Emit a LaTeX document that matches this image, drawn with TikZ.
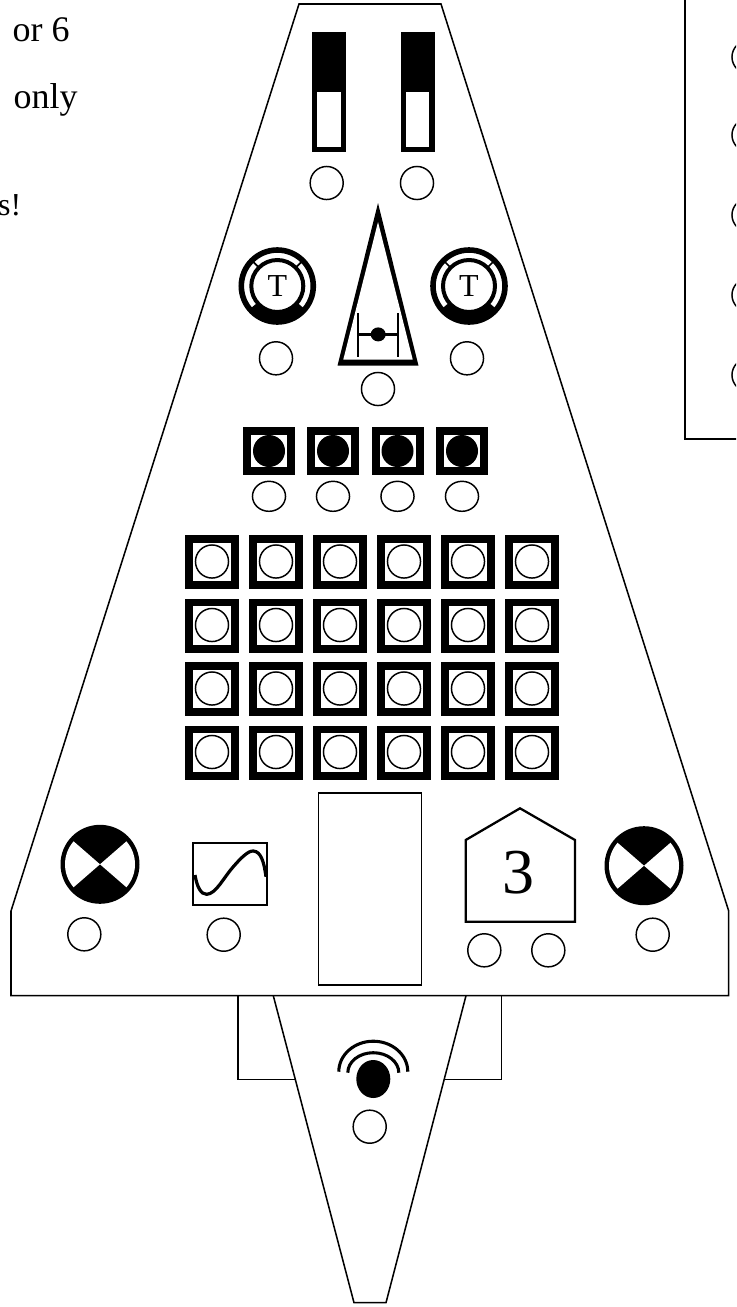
\documentclass[tikz,border=0pt]{standalone}
\usepackage{fontspec}
\setmainfont{Liberation Serif}
\usepackage{tikz}
\usetikzlibrary{positioning,calc,shapes.geometric}
\begin{document}
\begin{tikzpicture}[x=0.75pt, y=0.75pt,
  hole/.style={draw, circle, line width=1.1pt, minimum size=24.8pt, inner sep=0pt},
  flathole/.style={draw, ellipse, line width=1.1pt, minimum width=24.8pt, minimum height=22.5pt, inner sep=0pt},
  hull/.style={line width=1.15pt, line join=miter},
  frame/.style={line width=1.7pt},
  lab/.style={inner sep=0pt, font=\fontsize{27}{27}\selectfont}]
\useasboundingbox (0,0) rectangle (736,-1307);
\clip (0,0) rectangle (736,-1307);
% notes at top left
\node[lab, anchor=base east] (noteA) at (70,-41) {or 6};
\node[lab, anchor=base east] (noteB) at (78,-108) {only};
\node[anchor=base east, inner sep=0pt, font=\fontsize{24}{24}\selectfont] (noteC) at (21.5,-215) {s!};
% box at right
\draw[line width=1.4pt] (685,1) -- (685,-439) -- (737,-439);
\foreach \y/\k in {57/a,135/b,215/c,295/d,375/e}
  \node[hole] (side\k) at (748.5,-\y) {};
% hull
\draw[hull] (299,-4) -- (441,-4) -- (728.7,-911) -- (728.7,-995.7) -- (11,-995.7) -- (11,-911) -- cycle;
% tail
\draw[hull] (273.3,-995.7) -- (354,-1302.7) -- (386,-1302.7) -- (466,-995.7);
% fins
\draw[hull] (238,-995.7) -- (238,-1079.3) -- (295,-1079.3);
\draw[hull] (501.7,-995.7) -- (501.7,-1079.3) -- (444,-1079.3);
% sliders
\foreach \x/\k in {312/a,400.5/b} {
  \fill (\x,-32) rectangle (\x+34,-151.7);
  \fill[white] (\x+5,-91.7) rectangle (\x+28.5,-146.7);
}
\node[hole] (slideA) at (326.7,-183) {};
\node[hole] (slideB) at (417,-183) {};
% dials
\foreach \x/\k in {277.3/a,469/b} {
  \draw[line width=4.2pt] (\x,-286) circle[radius=36];
  \draw[line width=3pt] (\x,-286) circle[radius=26];
  \fill (\x,-286) ++(220:26) arc[start angle=220, end angle=320, radius=26]
    -- ++(320:10.5) arc[start angle=320, end angle=220, radius=36.5] -- cycle;
  \draw[line width=1.3pt] (\x,-286) ++(135:26) -- ++(135:10);
  \draw[line width=1.3pt] (\x,-286) ++(45:26) -- ++(45:10);
  \node[inner sep=0pt, font=\fontsize{24}{24}\selectfont] (dial\k) at (\x,-286) {T};
}
\node[hole] (dialholeA) at (276,-358.3) {};
\node[hole] (dialholeB) at (467,-358.3) {};
% fighter triangle
\fill (378,-203) -- (418.5,-365.7) -- (337.5,-365.7) -- cycle;
\fill[white] (378,-222) -- (412.7,-359.5) -- (343.3,-359.5) -- cycle;
\draw[line width=1.8pt] (358,-313) -- (358,-356.7);
\draw[line width=1.8pt] (397.7,-313) -- (397.7,-356.7);
\draw[line width=2pt] (358,-334.4) -- (397.7,-334.4);
\fill (378.2,-334.4) ellipse[x radius=7.5, y radius=7];
\node[hole] (tri) at (378,-389) {};
% four buttons
\foreach \x/\k in {243/a,307/b,371.5/c,436/d} {
  \fill (\x,-427.3) rectangle (\x+52,-475);
  \fill[white] (\x+8,-435) rectangle (\x+44,-467.3);
  \fill (\x+26,-451) circle[radius=16];
  \node[flathole] (btn\k) at (\x+26,-496.3) {};
}
% grid of keys
\foreach \row [count=\r] in {535,598.5,662,725.5}
  \foreach \col [count=\c] in {185,249,313,377,441,505} {
    \fill (\col,-\row) rectangle (\col+54,-\row-54);
    \fill[white] (\col+7.7,-\row-7.7) rectangle (\col+46,-\row-46);
    \node[hole] (key\r\c) at (\col+27,-\row-26.5) {};
  }
% crossed lamps
\foreach \x/\y in {100/864.3,644/865.7} {
  \fill (\x,-\y) circle[radius=39.5];
  \fill[white] (\x,-\y) -- ++(139:35) arc[start angle=139, end angle=221, radius=35] -- cycle;
  \fill[white] (\x,-\y) -- ++(41:35) arc[start angle=41, end angle=-41, radius=35] -- cycle;
}
\node[hole] (lampA) at (84.3,-934.3) {};
\node[hole] (lampB) at (652.7,-934.7) {};
% scope
\draw[frame] (193.3,-842.7) rectangle (267.3,-905);
\draw[line width=2.4pt] (195,-875) .. controls (197,-887) and (201,-894.5) .. (206.7,-894.3)
  .. controls (216,-894) and (224,-877) .. (233.3,-866.7)
  .. controls (240,-859) and (248,-850.5) .. (253.3,-851)
  .. controls (261,-851.5) and (264,-862) .. (266,-876.7);
\node[hole] (scopehole) at (223.7,-934.7) {};
% centre panel
\draw[hull] (318.3,-793) rectangle (421.7,-985);
% pentagon
\draw[frame] (465.7,-921.7) -- (575,-921.7) -- (575,-840) -- (520,-808.3) -- (465.7,-840) -- cycle;
\node[inner sep=0pt, font=\fontsize{48}{48}\selectfont] (count) at (518,-873) {3};
\node[hole] (countA) at (484.3,-950.3) {};
\node[hole] (countB) at (548.3,-950.3) {};
% beacon
\fill (373.3,-1079) ellipse[x radius=17, y radius=19];
\draw[line width=2.3pt] (347.8,-1072.7) arc[start angle=180, end angle=0, x radius=25.5, y radius=20];
\draw[line width=2.3pt] (338.8,-1071.7) arc[start angle=180, end angle=0, x radius=34.5, y radius=30.5];
\node[hole] (beacon) at (369.7,-1126.7) {};
\end{tikzpicture}
\end{document}
